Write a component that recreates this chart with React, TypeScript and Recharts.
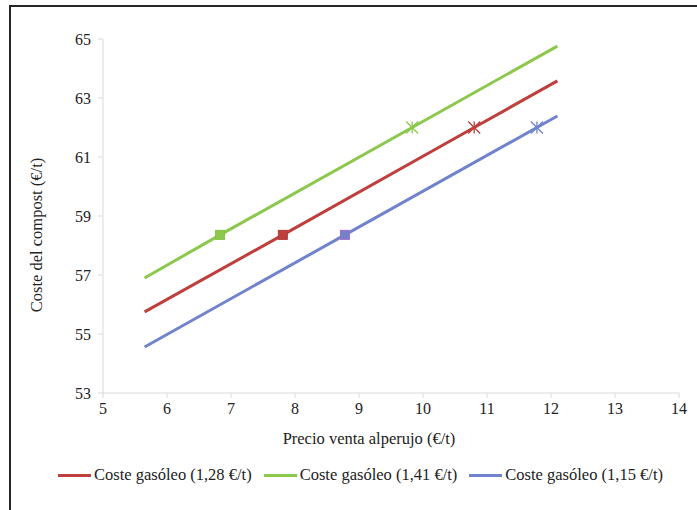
import React from 'react';
import { LineChart, Line, XAxis, YAxis, Legend } from 'recharts';

const xTicks = [5, 6, 7, 8, 9, 10, 11, 12, 13, 14];
const yTicks = [53, 55, 57, 59, 61, 63, 65];

const seriesNames = ['Coste gasóleo (1,28 €/t)', 'Coste gasóleo (1,41 €/t)', 'Coste gasóleo (1,15 €/t)'];
const seriesColors = ['#be3f3c', '#8cc84b', '#7083cc'];
const markBorders = ['#b23838', '#86c046', '#a56cc4'];

// points: start, square marker, star marker, end
const marks = ['', 'square', 'star', ''];
const redX = [5.65, 7.81, 10.8, 12.1];
const redY = [55.75, 58.36, 62.0, 63.58];
const greenX = [5.65, 6.83, 9.83, 12.1];
const greenY = [56.9, 58.36, 62.0, 64.76];
const blueX = [5.65, 8.78, 11.78, 12.1];
const blueY = [54.56, 58.36, 62.0, 62.39];

const build = (xs: number[], ys: number[]) => xs.map((x, i) => ({ x, y: ys[i], mark: marks[i] }));
const seriesData = [build(redX, redY), build(greenX, greenY), build(blueX, blueY)];

const font = '"Liberation Serif", "Times New Roman", serif';
const fs = 16.5;

const makeDot = (idx: number) => (props: any) => {
  const { cx, cy, payload, index } = props;
  const key = `d-${idx}-${index}`;
  if (payload.mark === 'square') {
    return (
      <rect key={key} x={cx - 4.5} y={cy - 4.5} width={9} height={9}
        fill={seriesColors[idx]} stroke={markBorders[idx]} strokeWidth={1} />
    );
  }
  if (payload.mark === 'star') {
    const r = 6;
    return (
      <g key={key} stroke={seriesColors[idx]} strokeWidth={1.3}>
        <line x1={cx} y1={cy - r} x2={cx} y2={cy + r} />
        <line x1={cx - r} y1={cy - r} x2={cx + r} y2={cy + r} />
        <line x1={cx - r} y1={cy + r} x2={cx + r} y2={cy - r} />
      </g>
    );
  }
  return <g key={key} />;
};

const YLabel = (props: any) => {
  const { viewBox } = props;
  const x = viewBox.x + 16;
  const y = viewBox.y + viewBox.height / 2 + 19;
  return (
    <text x={x} y={y} transform={`rotate(-90, ${x}, ${y})`} textAnchor="middle"
      dominantBaseline="central" style={{ fontSize: fs, fontFamily: font }} fill="#222">
      Coste del compost (€/t)
    </text>
  );
};

const XLabel = (props: any) => {
  const { viewBox } = props;
  return (
    <text x={viewBox.x + viewBox.width / 2 - 22} y={438} textAnchor="middle"
      dominantBaseline="central" style={{ fontSize: fs, fontFamily: font }} fill="#222">
      Precio venta alperujo (€/t)
    </text>
  );
};

const LegendContent = () => (
  <div style={{ display: 'flex', justifyContent: 'center', alignItems: 'center', height: 30, paddingLeft: 24, fontFamily: font, fontSize: fs, color: '#222' }}>
    {seriesNames.map((n, i) => (
      <div key={n} style={{ display: 'flex', alignItems: 'center', marginRight: i < 2 ? 12 : 0 }}>
        <div style={{ width: 33, height: 3, background: seriesColors[i], marginRight: 3 }} />
        <span>{n}</span>
      </div>
    ))}
  </div>
);

export default function App() {
  return (
    <div style={{ position: 'absolute', left: 0, top: 0, width: 697, height: 510, overflow: 'hidden', background: '#fff', fontFamily: font }}>
      <div style={{ position: 'absolute', left: 9, top: 5, width: 800, height: 600, border: '2px solid #262626' }} />
      <LineChart width={697} height={510} margin={{ top: 39, right: 18, left: 20, bottom: 20 }} style={{ fontFamily: font }}>
        <XAxis
          type="number"
          dataKey="x"
          domain={[5, 14]}
          ticks={xTicks}
          allowDuplicatedCategory={false}
          height={67}
          stroke="#d9d9d9"
          tickSize={5}
          tickMargin={5}
          tick={{ fill: '#222', fontSize: 16, style: { fontFamily: font } }}
          label={<XLabel />}
        />
        <YAxis
          type="number"
          domain={[53, 65]}
          ticks={yTicks}
          width={83}
          stroke="#d9d9d9"
          tickSize={5}
          tickMargin={7}
          tick={{ fill: '#222', fontSize: 16, style: { fontFamily: font } }}
          label={<YLabel />}
        />
        <Legend verticalAlign="bottom" content={<LegendContent />} wrapperStyle={{ left: 0, width: 697 }} />
        {seriesData.map((d, i) => (
          <Line
            key={seriesNames[i]}
            data={d}
            dataKey="y"
            name={seriesNames[i]}
            type="linear"
            stroke={seriesColors[i]}
            strokeWidth={3}
            dot={makeDot(i)}
            activeDot={false}
            isAnimationActive={false}
          />
        ))}
      </LineChart>
    </div>
  );
}
